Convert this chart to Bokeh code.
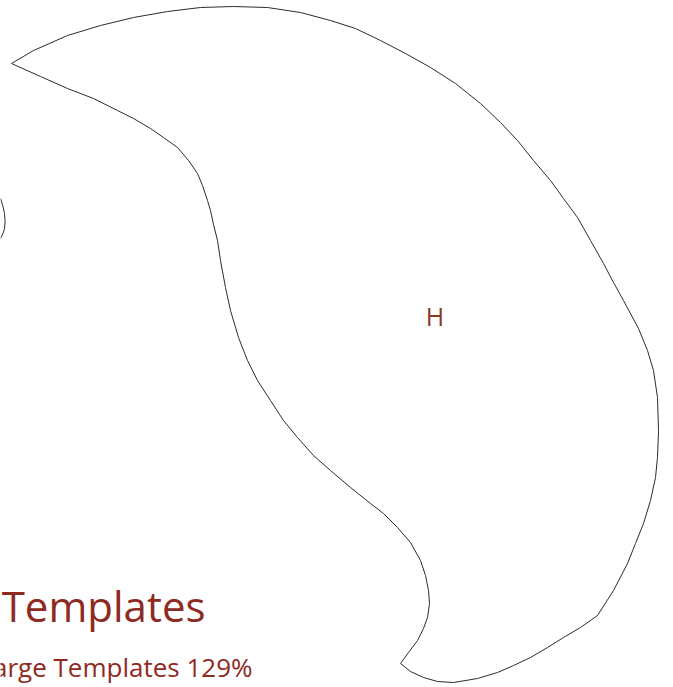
from bokeh.plotting import figure
from bokeh.models import Range1d
from bokeh.core.properties import value
from bokeh.embed import file_html
from bokeh.resources import INLINE

# Outline of the main region (pixel-space coordinates)
outline_x = [11, 33, 67, 100, 133, 167, 200, 233, 267, 300, 330, 355, 380, 405, 430,
             455, 480, 500, 517, 533, 550, 563, 577, 590, 603, 613, 623, 638, 647,
             653, 657, 658, 657, 655, 650, 643, 635, 627, 613, 597, 580, 563, 547,
             530, 513, 497, 477, 453, 437, 423, 410, 400, 408, 417, 423, 427, 429,
             428, 425, 420, 410, 397, 383, 370, 350, 330, 313, 297, 283, 270, 257,
             247, 238, 230, 225, 220, 217, 213, 210, 207, 202, 197, 188, 177, 163,
             150, 133, 117, 93, 67, 40, 11]
outline_y = [63, 50, 35, 25, 17, 11, 7, 6, 7, 12, 20, 28, 40, 53, 67,
             83, 103, 122, 140, 160, 180, 198, 217, 240, 263, 282, 300, 328, 350,
             370, 397, 430, 457, 477, 500, 523, 543, 563, 590, 615, 627, 637, 647,
             657, 665, 672, 678, 682, 681, 677, 671, 663, 652, 640, 628, 617, 603,
             590, 575, 560, 542, 527, 513, 503, 487, 470, 455, 437, 420, 400, 380,
             360, 337, 310, 287, 260, 240, 224, 210, 200, 185, 173, 160, 147, 137,
             128, 118, 110, 98, 88, 76, 63]

# Small partial outline at left edge
arc_x = [0, 2.5, 4, 4.6, 4, 2.5, 0]
arc_y = [198, 206, 213, 221, 228, 233, 238]

region_labels = ["H"]
region_label_x = [434.5]
region_label_y = [315]

title_text = ["Templates"]
subtitle_text = ["Large Templates 129%"]

p = figure(width=673, height=687, output_backend="svg", toolbar_location=None,
           x_range=Range1d(0, 673), y_range=Range1d(687, 0),
           x_axis_location=None, y_axis_location=None, min_border=0)
p.grid.visible = False
p.outline_line_color = None
p.background_fill_color = "white"
p.border_fill_color = "white"

p.patch(outline_x, outline_y, fill_color="white", line_color="#2b2b2b", line_width=1)
p.line(arc_x, arc_y, line_color="#2b2b2b", line_width=1)

p.text(x=region_label_x, y=region_label_y, text=region_labels, text_color="#8b3a22",
       text_font=value("Open Sans"), text_font_size="25px", text_align="center",
       text_baseline="alphabetic")

p.text(x=[205], y=[605], text=title_text, text_color="#8e2a1f",
       text_font=value("Open Sans"), text_font_size="42px", text_align="right",
       text_baseline="alphabetic")
p.text(x=[252], y=[666], text=subtitle_text, text_color="#8e2a1f",
       text_font=value("Open Sans"), text_font_size="26px", text_align="right",
       text_baseline="alphabetic")

html = file_html(p, INLINE)
html = html.replace("<head>", "<head><style>html,body{margin:0;padding:0;overflow:hidden}</style>", 1)
open("out.html", "w").write(html)
